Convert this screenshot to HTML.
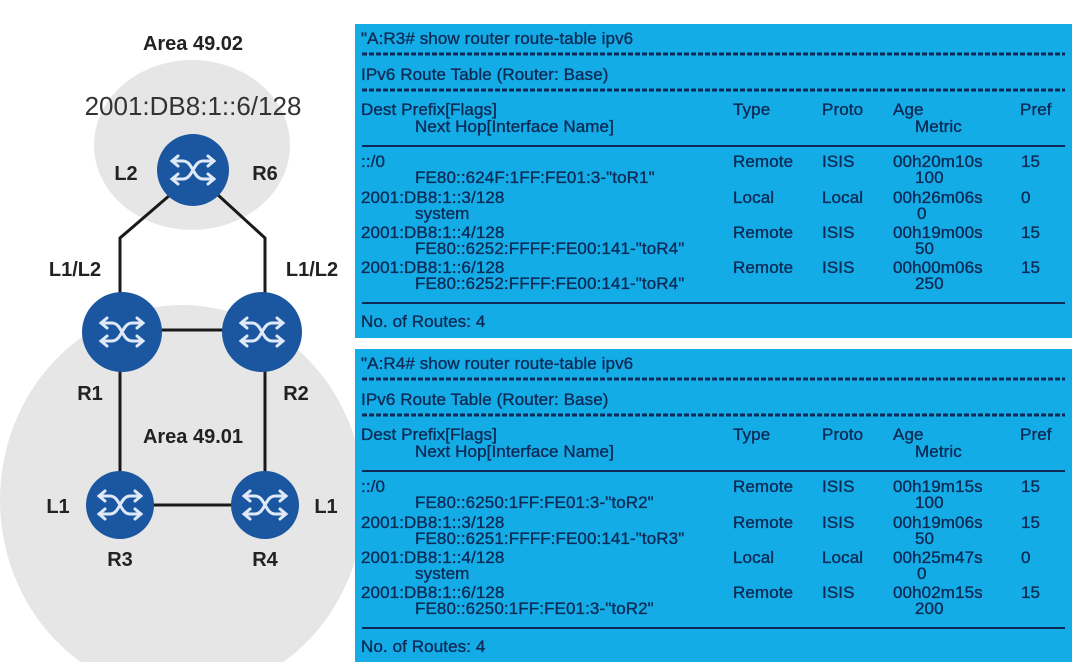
<!DOCTYPE html>
<html><head><meta charset="utf-8"><style>
html,body{margin:0;padding:0;background:#fff;}
svg{display:block;}
.t{font-family:"Liberation Sans",sans-serif;font-size:17px;fill:#0c2a55;stroke:#0c2a55;stroke-width:0.35;letter-spacing:0.1px;}
.lb{font-family:"Liberation Sans",sans-serif;font-weight:bold;font-size:20px;fill:#222;}
</style></head><body>
<svg width="1074" height="662" viewBox="0 0 1074 662" xmlns="http://www.w3.org/2000/svg">
<defs>
<g id="ic" fill="none" stroke="#dfe9f7" stroke-width="3" stroke-linecap="round">
<path d="M-20,-9 H-10 C0,-9 0,9 10,9 H20"/>
<path d="M-20,9 H-10 C0,9 0,-9 10,-9 H20"/>
<path d="M-15,-14 L-21,-9 L-15,-4 M15,-14 L21,-9 L15,-4 M-15,4 L-21,9 L-15,14 M15,4 L21,9 L15,14"/>
</g>
</defs>
<rect width="1074" height="662" fill="#fff"/>
<ellipse cx="192" cy="145" rx="98" ry="85" fill="#e6e6e6"/>
<ellipse cx="182" cy="500" rx="182" ry="195" fill="#e6e6e6"/>
<g stroke="#1a1a1a" stroke-width="3" fill="none">
<polyline points="170,195 120,238 120,330"/>
<polyline points="218,195 265,238 265,330"/>
<line x1="120" y1="330" x2="265" y2="330"/>
<line x1="120" y1="330" x2="120" y2="505"/>
<line x1="265" y1="330" x2="265" y2="505"/>
<line x1="120" y1="505" x2="265" y2="505"/>
</g>
<g fill="#1b56a0">
<circle cx="193" cy="170" r="36"/>
<circle cx="122" cy="332" r="40"/>
<circle cx="262" cy="332" r="40"/>
<circle cx="120" cy="505" r="34"/>
<circle cx="265" cy="505" r="34"/>
</g>
<use href="#ic" x="193" y="170"/>
<use href="#ic" x="122" y="332"/>
<use href="#ic" x="262" y="332"/>
<use href="#ic" x="120" y="505"/>
<use href="#ic" x="265" y="505"/>
<text class="lb" x="193" y="50" text-anchor="middle">Area 49.02</text>
<text x="193" y="115" text-anchor="middle" style="font-family:'Liberation Sans',sans-serif;font-size:26px;fill:#333">2001:DB8:1::6/128</text>
<text class="lb" x="126" y="180" text-anchor="middle">L2</text>
<text class="lb" x="265" y="180" text-anchor="middle">R6</text>
<text class="lb" x="75" y="276" text-anchor="middle">L1/L2</text>
<text class="lb" x="312" y="276" text-anchor="middle">L1/L2</text>
<text class="lb" x="90" y="400" text-anchor="middle">R1</text>
<text class="lb" x="296" y="400" text-anchor="middle">R2</text>
<text class="lb" x="193" y="443" text-anchor="middle">Area 49.01</text>
<text class="lb" x="58" y="513" text-anchor="middle">L1</text>
<text class="lb" x="326" y="513" text-anchor="middle">L1</text>
<text class="lb" x="120" y="566" text-anchor="middle">R3</text>
<text class="lb" x="265" y="566" text-anchor="middle">R4</text>

<!-- Panel 1 -->
<g>
<rect x="355" y="24" width="717" height="314" fill="#14ace6"/>
<g stroke="#0c2a55">
<line x1="362" y1="54" x2="1065" y2="54" stroke-width="3" stroke-dasharray="5,2"/>
<line x1="362" y1="90" x2="1065" y2="90" stroke-width="3" stroke-dasharray="5,2"/>
<line x1="362" y1="146" x2="1065" y2="146" stroke-width="2"/>
<line x1="362" y1="303" x2="1065" y2="303" stroke-width="2"/>
</g>
<text class="t" x="361" y="44">"A:R3# show router route-table ipv6</text>
<text class="t" x="361" y="80">IPv6 Route Table (Router: Base)</text>
<text class="t" x="361" y="115">Dest Prefix[Flags]</text>
<text class="t" x="415" y="132">Next Hop[Interface Name]</text>
<text class="t" x="733" y="115">Type</text><text class="t" x="822" y="115">Proto</text><text class="t" x="893" y="115">Age</text><text class="t" x="915" y="132">Metric</text><text class="t" x="1020" y="115">Pref</text>
<text class="t" x="361" y="167">::/0</text><text class="t" x="415" y="183">FE80::624F:1FF:FE01:3-"toR1"</text>
<text class="t" x="733" y="167">Remote</text><text class="t" x="822" y="167">ISIS</text><text class="t" x="893" y="167">00h20m10s</text><text class="t" x="915" y="183">100</text><text class="t" x="1021" y="167">15</text>
<text class="t" x="361" y="203">2001:DB8:1::3/128</text><text class="t" x="415" y="219">system</text>
<text class="t" x="733" y="203">Local</text><text class="t" x="822" y="203">Local</text><text class="t" x="893" y="203">00h26m06s</text><text class="t" x="917" y="219">0</text><text class="t" x="1021" y="203">0</text>
<text class="t" x="361" y="238">2001:DB8:1::4/128</text><text class="t" x="415" y="254">FE80::6252:FFFF:FE00:141-"toR4"</text>
<text class="t" x="733" y="238">Remote</text><text class="t" x="822" y="238">ISIS</text><text class="t" x="893" y="238">00h19m00s</text><text class="t" x="915" y="254">50</text><text class="t" x="1021" y="238">15</text>
<text class="t" x="361" y="273">2001:DB8:1::6/128</text><text class="t" x="415" y="289">FE80::6252:FFFF:FE00:141-"toR4"</text>
<text class="t" x="733" y="273">Remote</text><text class="t" x="822" y="273">ISIS</text><text class="t" x="893" y="273">00h00m06s</text><text class="t" x="915" y="289">250</text><text class="t" x="1021" y="273">15</text>
<text class="t" x="361" y="327">No. of Routes: 4</text>
</g>

<!-- Panel 2 -->
<g transform="translate(0,325)">
<rect x="355" y="24" width="717" height="320" fill="#14ace6"/>
<g stroke="#0c2a55">
<line x1="362" y1="54" x2="1065" y2="54" stroke-width="3" stroke-dasharray="5,2"/>
<line x1="362" y1="90" x2="1065" y2="90" stroke-width="3" stroke-dasharray="5,2"/>
<line x1="362" y1="146" x2="1065" y2="146" stroke-width="2"/>
<line x1="362" y1="303" x2="1065" y2="303" stroke-width="2"/>
</g>
<text class="t" x="361" y="44">"A:R4# show router route-table ipv6</text>
<text class="t" x="361" y="80">IPv6 Route Table (Router: Base)</text>
<text class="t" x="361" y="115">Dest Prefix[Flags]</text>
<text class="t" x="415" y="132">Next Hop[Interface Name]</text>
<text class="t" x="733" y="115">Type</text><text class="t" x="822" y="115">Proto</text><text class="t" x="893" y="115">Age</text><text class="t" x="915" y="132">Metric</text><text class="t" x="1020" y="115">Pref</text>
<text class="t" x="361" y="167">::/0</text><text class="t" x="415" y="183">FE80::6250:1FF:FE01:3-"toR2"</text>
<text class="t" x="733" y="167">Remote</text><text class="t" x="822" y="167">ISIS</text><text class="t" x="893" y="167">00h19m15s</text><text class="t" x="915" y="183">100</text><text class="t" x="1021" y="167">15</text>
<text class="t" x="361" y="203">2001:DB8:1::3/128</text><text class="t" x="415" y="219">FE80::6251:FFFF:FE00:141-"toR3"</text>
<text class="t" x="733" y="203">Remote</text><text class="t" x="822" y="203">ISIS</text><text class="t" x="893" y="203">00h19m06s</text><text class="t" x="915" y="219">50</text><text class="t" x="1021" y="203">15</text>
<text class="t" x="361" y="238">2001:DB8:1::4/128</text><text class="t" x="415" y="254">system</text>
<text class="t" x="733" y="238">Local</text><text class="t" x="822" y="238">Local</text><text class="t" x="893" y="238">00h25m47s</text><text class="t" x="917" y="254">0</text><text class="t" x="1021" y="238">0</text>
<text class="t" x="361" y="273">2001:DB8:1::6/128</text><text class="t" x="415" y="289">FE80::6250:1FF:FE01:3-"toR2"</text>
<text class="t" x="733" y="273">Remote</text><text class="t" x="822" y="273">ISIS</text><text class="t" x="893" y="273">00h02m15s</text><text class="t" x="915" y="289">200</text><text class="t" x="1021" y="273">15</text>
<text class="t" x="361" y="327">No. of Routes: 4</text>
</g>
</svg>
</body></html>
